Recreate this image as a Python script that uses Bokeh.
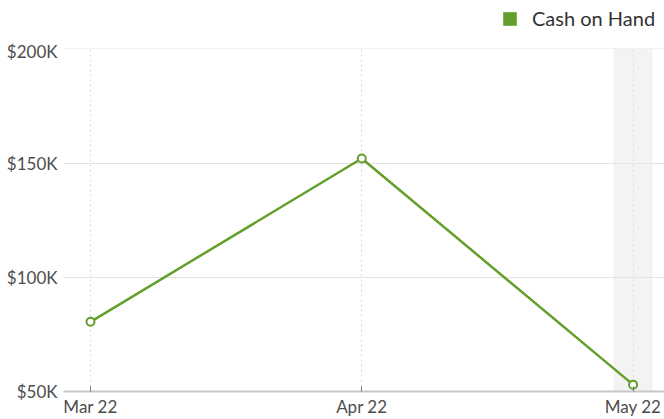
from bokeh.plotting import figure
from bokeh.layouts import column
from bokeh.models import BoxAnnotation, Legend, LegendItem, FixedTicker, Range1d
from bokeh.embed import file_html
from bokeh.resources import INLINE

months = ["Mar 22", "Apr 22", "May 22"]
cash = [80500, 152000, 53000]
y_ticks = [50000, 100000, 150000, 200000]
y_tick_labels = ["$50K", "$100K", "$150K", "$200K"]
highlight = "May 22"
series_name = "Cash on Hand"

GREEN = "#62a02b"
FONT = "Lato"
TXT = "#4d4d4d"

xs = list(range(len(months)))

# ---- legend strip ----
top = figure(width=664, height=40, output_backend="svg", toolbar_location=None,
             x_range=Range1d(0, 1), y_range=Range1d(0, 1),
             min_border_left=0, min_border_right=0, min_border_top=0, min_border_bottom=0)
top.axis.visible = False
top.grid.visible = False
top.outline_line_color = None
# zero-height proxy bar: only used to draw the legend swatch
r = top.vbar(x=[0.5], top=[0], bottom=[0], width=0.5, fill_color=GREEN, line_color=None)
legend = Legend(items=[LegendItem(label=series_name, renderers=[r])], location=(438, 10),
                orientation="horizontal", padding=0, margin=0, border_line_color=None,
                background_fill_alpha=0, glyph_width=17, glyph_height=17, label_standoff=14,
                label_text_font=FONT, label_text_font_size="20px", label_text_color="#333333",
                label_height=17, spacing=0)
top.add_layout(legend)

# ---- main chart ----
p = figure(width=664, height=379, output_backend="svg", toolbar_location=None,
           x_range=Range1d(-0.0995, 2.116), y_range=Range1d(y_ticks[0], y_ticks[-1] + 150),
           min_border_left=63, min_border_right=0, min_border_top=8, min_border_bottom=28)
p.outline_line_color = None
p.background_fill_color = "white"

hx = months.index(highlight)
band = BoxAnnotation(left=hx - 0.072, right=hx + 0.072, fill_color="#f3f3f3", fill_alpha=1,
                     line_color=None, level="image")
p.add_layout(band)

p.xgrid.ticker = FixedTicker(ticks=xs)
p.xgrid.grid_line_dash = "2 3"
p.xgrid.grid_line_color = "#d9d9d9"
p.ygrid.ticker = FixedTicker(ticks=y_ticks)
p.ygrid.grid_line_color = "#e3e3e3"

ax = p.xaxis[0]
ax.ticker = FixedTicker(ticks=xs)
ax.major_label_overrides = {i: m for i, m in zip(xs, months)}
ax.axis_line_color = "#c6c6c6"
ax.axis_line_width = 2
ax.major_tick_line_color = "#777777"
ax.major_tick_in = 5
ax.major_tick_out = 0
ax.minor_tick_line_color = None
ax.major_label_standoff = 4
ax.major_label_text_font = FONT
ax.major_label_text_font_size = "17px"
ax.major_label_text_color = TXT

ay = p.yaxis[0]
ay.ticker = FixedTicker(ticks=y_ticks)
ay.major_label_overrides = {v: t for v, t in zip(y_ticks, y_tick_labels)}
ay.axis_line_color = None
ay.major_tick_line_color = None
ay.minor_tick_line_color = None
ay.major_label_standoff = 0
ay.major_label_text_font = FONT
ay.major_label_text_font_size = "17px"
ay.major_label_text_color = TXT

p.line(xs, cash, line_color=GREEN, line_width=2.5)
p.scatter(xs, cash, size=8, fill_color="white", line_color=GREEN, line_width=2)

layout = column(top, p, spacing=0)
open("out.html", "w").write(file_html(layout, INLINE))
